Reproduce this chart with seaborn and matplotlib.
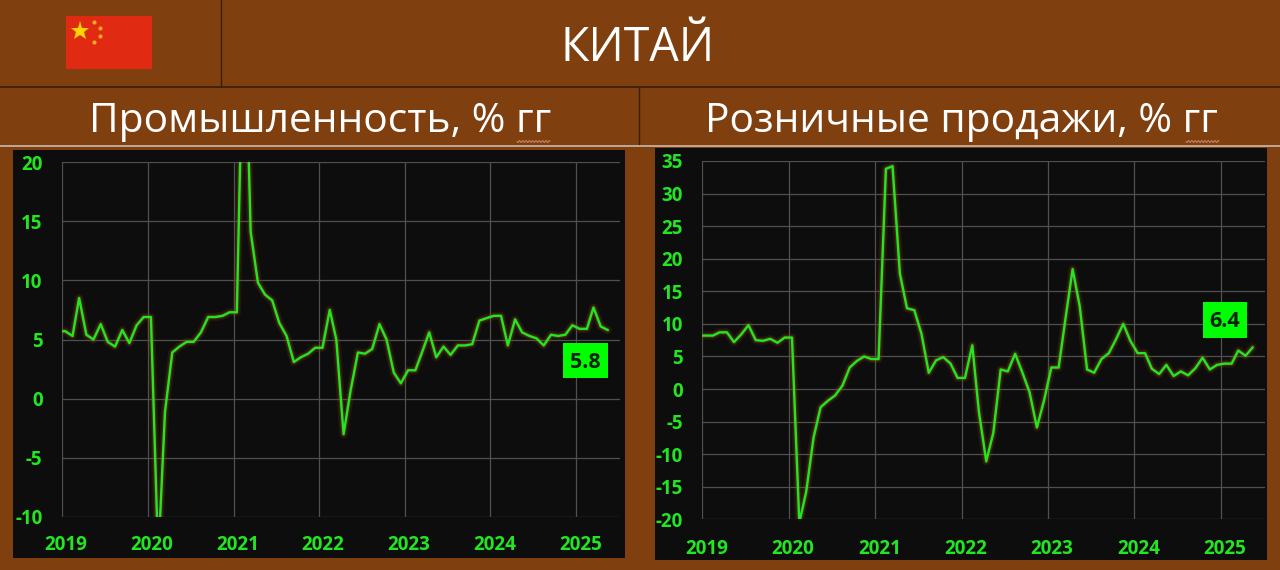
# China: industry and retail sales, % yoy
import numpy as np
import pandas as pd
import matplotlib.pyplot as plt
import matplotlib.patheffects as pe
from matplotlib.patches import Rectangle
from matplotlib.transforms import ScaledTranslation
import seaborn as sns

# monthly readings, Dec 2018 - May 2025
industry = [
    5.7, 5.7, 5.3, 8.5, 5.4, 5.0, 6.3, 4.8, 4.4, 5.8, 4.7, 6.2, 6.9,
    6.9, -13.5, -1.1, 3.9, 4.4, 4.8, 4.8, 5.6, 6.9, 6.9, 7.0, 7.3,
    7.3, 35.1, 14.1, 9.8, 8.8, 8.3, 6.4, 5.3, 3.1, 3.5, 3.8, 4.3,
    4.3, 7.5, 5.0, -3.0, 0.7, 3.9, 3.8, 4.2, 6.3, 5.0, 2.2, 1.3,
    2.4, 2.4, 3.9, 5.6, 3.5, 4.4, 3.7, 4.5, 4.5, 4.6, 6.6, 6.8,
    7.0, 7.0, 4.5, 6.7, 5.6, 5.3, 5.1, 4.5, 5.4, 5.3, 5.4, 6.2,
    5.9, 5.9, 7.7, 6.1, 5.8,
]
retail = [
    8.2, 8.2, 8.2, 8.7, 8.7, 7.2, 8.4, 9.8, 7.5, 7.4, 7.7, 7.1, 7.9,
    7.9, -20.5, -15.8, -7.5, -2.8, -1.8, -1.0, 0.5, 3.3, 4.3, 5.0, 4.6,
    4.6, 33.8, 34.2, 17.7, 12.4, 12.1, 8.5, 2.5, 4.4, 4.9, 3.9, 1.7,
    1.7, 6.7, -3.5, -11.1, -6.7, 3.0, 2.7, 5.4, 2.5, -0.5, -5.9, -1.8,
    3.3, 3.3, 10.6, 18.4, 12.7, 3.0, 2.5, 4.6, 5.5, 7.6, 10.0, 7.4,
    5.5, 5.5, 3.1, 2.3, 3.7, 2.0, 2.7, 2.1, 3.2, 4.8, 3.0, 3.7,
    3.9, 3.9, 5.9, 5.1, 6.4,
]
years = [2019, 2020, 2021, 2022, 2023, 2024, 2025]
industry_ticks = [-10, -5, 0, 5, 10, 15, 20]
retail_ticks = [-20, -15, -10, -5, 0, 5, 10, 15, 20, 25, 30, 35]

BROWN = "#7F3F0E"
PANEL = "#0D0D0D"
GREEN = "#22E622"
FONT = ["Open Sans", "DejaVu Sans"]
W, H = 1280, 570

sns.set_theme(style="dark")
plt.rcParams["font.family"] = FONT
plt.rcParams["axes.unicode_minus"] = False

months = pd.date_range("2018-12-15", periods=len(industry), freq=pd.DateOffset(months=1))
fig = plt.figure(figsize=(W / 100, H / 100), dpi=100, facecolor=BROWN)

# full-figure layer in pixel coordinates for the header and panels
bg = fig.add_axes([0, 0, 1, 1], zorder=0)
bg.set_xlim(0, W)
bg.set_ylim(H, 0)
bg.axis("off")


def draw_header():
    bg.plot([0, W], [87, 87], color="#3A1E08", lw=1.2)
    bg.plot([221, 221], [0, 87], color="#3A1E08", lw=1.0)
    bg.plot([639, 639], [87, 146], color="#3A1E08", lw=1.0)
    bg.plot([0, W], [145.5, 145.5], color="#C9BBAE", lw=1.2)

    # flag
    bg.add_patch(Rectangle((66, 16), 86, 53, color="#E02A12", lw=0))
    bg.plot(80, 31, marker="*", ms=14, color="#FFD400", mew=0)
    for sx, sy in [(94, 22), (100, 28), (100, 36), (94, 42)]:
        bg.plot(sx, sy, marker="o", ms=3, color="#F5A623", mew=0)

    bg.text(638, 48, "КИТАЙ", color="white", fontsize=33.5, ha="center", va="center")
    bg.text(320, 122, "Промышленность, % гг", color="white", fontsize=29.3,
            ha="center", va="center")
    bg.text(961, 122, "Розничные продажи, % гг", color="white", fontsize=29.3,
            ha="center", va="center")

    # spell-check squiggles under the "гг"
    for x0 in (517, 1186):
        sx = np.linspace(x0, x0 + 33, 60)
        bg.plot(sx, 141.5 + np.sin((sx - x0) * 1.9), color="#C98A6A", lw=0.7)


def plot_panel(values, yticks, ylim, axes_px, panel_px, label, label_px, xlabel_pad):
    left, right, top, bottom = axes_px
    bg.add_patch(Rectangle((panel_px[0], panel_px[2]), panel_px[1] - panel_px[0],
                           panel_px[3] - panel_px[2], color=PANEL, lw=0))

    ax = fig.add_axes([left / W, 1 - bottom / H, (right - left) / W, (bottom - top) / H], zorder=1)
    df = pd.DataFrame({"month": months, "value": values})
    sns.lineplot(data=df, x="month", y="value", color=GREEN, lw=1.7, ax=ax)
    ax.lines[0].set_path_effects([
        pe.Stroke(linewidth=6, foreground="#7F3F0E", alpha=0.18),
        pe.Stroke(linewidth=3.5, foreground="#8A5A14", alpha=0.3),
        pe.Normal(),
    ])

    ax.set_facecolor(PANEL)
    ax.set_xlim(pd.Timestamp("2019-01-01"), pd.Timestamp("2025-07-06"))
    ax.set_ylim(*ylim)
    ax.set_xticks([pd.Timestamp(f"{y}-01-01") for y in years])
    ax.set_xticklabels(years)
    ax.set_yticks(yticks)
    ax.set_xlabel("")
    ax.set_ylabel("")
    ax.grid(True, color="#505050", lw=0.9)
    ax.set_axisbelow(True)
    for side in ax.spines:
        ax.spines[side].set_visible(False)
    ax.tick_params(length=0, labelcolor=GREEN, labelsize=13.5)
    ax.tick_params(axis="x", pad=xlabel_pad)
    ax.tick_params(axis="y", pad=14)
    for t in ax.get_xticklabels() + ax.get_yticklabels():
        t.set_fontweight("bold")
    # year labels sit a little right of their gridlines
    for t in ax.get_xticklabels():
        t.set_transform(t.get_transform() + ScaledTranslation(4 / 100, 0, fig.dpi_scale_trans))

    # last value box
    bx0, bx1, by0, by1 = label_px
    ax.add_patch(Rectangle((bx0, by0), bx1 - bx0, by1 - by0, color="#00FF00", lw=0,
                           transform=bg.transData, clip_on=False, zorder=5))
    ax.text((bx0 + bx1) / 2, (by0 + by1) / 2 + 2, label, color="#0A200A", fontsize=15.5,
            fontweight="bold", ha="center", va="center", transform=bg.transData, zorder=6)
    return ax


draw_header()
plot_panel(industry, industry_ticks, (-10, 20), (62, 620, 162, 517), (13, 625, 150, 558),
           "5.8", (563, 607.5, 343, 378), 13)
plot_panel(retail, retail_ticks, (-20, 35), (702.3, 1265, 161, 519.3), (655, 1267, 148, 560),
           "6.4", (1202.7, 1247, 302, 337.5), 14)

fig.savefig("out.png", dpi=100, facecolor=BROWN)
